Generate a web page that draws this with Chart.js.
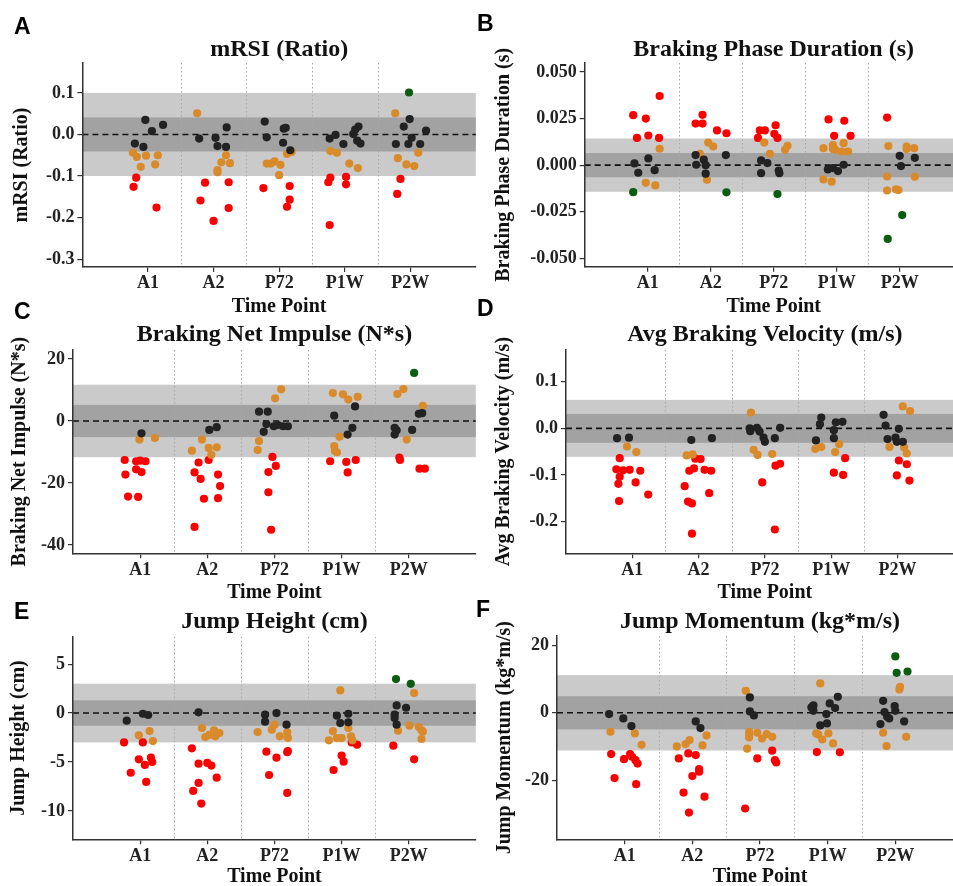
<!DOCTYPE html>
<html>
<head>
<meta charset="utf-8">
<script src="https://cdn.jsdelivr.net/npm/chart.js@4.4.1/dist/chart.umd.min.js"></script>
<style>
html, body { margin: 0; padding: 0; background: #fff; overflow: hidden; }
#wrap { position: relative; width: 953px; height: 886px; overflow: hidden; background: #fff; }
#wrap canvas { position: absolute; }
.letter { position: absolute; font: bold 23px "Liberation Sans", Arial, sans-serif; line-height: 23px; color: #000; z-index: 5; }
</style>
</head>
<body>
<div id="wrap"></div>
<script>
// categories on the x axis
const timePoints = ['A1', 'A2', 'P72', 'P1W', 'P2W'];

// points are [jittered time point index, value]
// mRSI (Ratio)
const mrsiBlack = [[0.80,-0.022],[0.96,0.035],[0.93,-0.030],[1.06,0.008],[1.23,0.023],[1.78,-0.010],[2.03,-0.008],[2.06,-0.028],[2.19,-0.030],[2.20,0.017],[2.78,0.031],[2.81,-0.007],[3.07,0.014],[3.10,0.016],[3.06,-0.020],[3.17,-0.038],[3.77,-0.010],[3.86,-0.001],[3.98,-0.023],[4.13,0.001],[4.16,0.012],[4.21,0.019],[4.19,-0.015],[4.24,-0.022],[4.99,0.037],[4.90,0.019],[5.24,0.009],[4.78,-0.023],[4.97,-0.023],[5.02,-0.008],[5.15,-0.023]];
const mrsiOrange = [[0.77,-0.044],[0.83,-0.054],[0.97,-0.051],[0.89,-0.078],[1.11,-0.072],[1.15,-0.050],[1.75,0.051],[2.19,-0.050],[2.12,-0.067],[2.25,-0.069],[2.06,-0.086],[2.06,-0.091],[2.81,-0.070],[2.87,-0.070],[2.93,-0.065],[3.02,-0.073],[3.00,-0.098],[3.12,-0.047],[3.19,-0.042],[3.78,-0.040],[3.88,-0.044],[4.07,-0.070],[4.20,-0.081],[4.77,0.051],[4.81,-0.057],[4.94,-0.072],[5.06,-0.076],[5.12,-0.044]];
const mrsiRed = [[0.82,-0.104],[0.78,-0.126],[1.13,-0.176],[1.87,-0.116],[2.23,-0.115],[1.80,-0.159],[2.23,-0.177],[2.00,-0.208],[2.76,-0.129],[3.16,-0.124],[3.16,-0.157],[3.12,-0.174],[3.78,-0.104],[3.75,-0.115],[4.02,-0.102],[4.02,-0.120],[3.77,-0.218],[4.85,-0.107],[4.80,-0.143]];
const mrsiGreen = [[4.98,0.101]];

// Braking Phase Duration (s)
const bpdBlack = [[0.79,0.0009],[0.85,-0.0041],[1.01,0.0036],[1.11,-0.0027],[1.76,0.0054],[2.24,0.0054],[1.89,0.0029],[1.77,0.0002],[1.92,0.0],[1.92,-0.0046],[2.80,0.0025],[2.90,0.0011],[2.80,-0.0043],[3.08,-0.0029],[3.09,-0.0043],[3.86,-0.0023],[3.94,-0.0016],[4.02,-0.0032],[4.11,0.0002],[5.00,0.0050],[5.02,-0.0005],[5.24,0.0039]];
const bpdOrange = [[1.19,0.0088],[0.97,-0.0095],[1.12,-0.0109],[1.96,0.0121],[2.04,0.0100],[1.83,0.0061],[1.94,-0.0079],[2.85,0.0121],[2.94,0.0061],[3.18,0.0082],[3.22,0.0104],[3.79,0.0091],[3.94,0.0107],[3.98,0.0082],[4.08,0.0073],[4.11,0.0118],[4.18,0.0073],[3.94,0.0086],[3.79,-0.0077],[3.92,-0.0089],[4.82,0.0102],[5.11,0.0100],[5.23,0.0091],[5.11,0.0086],[4.80,-0.0061],[5.24,-0.0063],[4.80,-0.0136],[4.94,-0.0130],[4.98,-0.0134]];
const bpdRed = [[0.77,0.0268],[0.97,0.0250],[1.19,0.0371],[0.83,0.0146],[1.01,0.0159],[1.18,0.0146],[1.76,0.0223],[1.87,0.0270],[1.87,0.0223],[2.10,0.0186],[2.25,0.0171],[2.78,0.0186],[2.86,0.0186],[3.03,0.0214],[3.01,0.0168],[2.75,0.0146],[3.06,0.0146],[3.87,0.0245],[4.12,0.0238],[3.96,0.0157],[4.22,0.0157],[4.80,0.0255]];
const bpdGreen = [[0.77,-0.0145],[2.25,-0.0146],[3.06,-0.0155],[5.04,-0.0268],[4.81,-0.0396]];

// Braking Net Impulse (N*s)
const bniBlack = [[1.02,-4.0],[2.03,-2.9],[2.14,-2.0],[2.77,3.0],[2.90,3.0],[2.88,-1.0],[2.84,-3.5],[2.99,-1.7],[3.05,-1.3],[3.13,-1.7],[3.20,-1.7],[4.20,4.7],[3.89,1.7],[4.16,-2.2],[4.09,-4.4],[5.15,2.3],[5.20,2.5],[4.79,-2.2],[4.82,-3.0],[4.79,-4.4],[5.05,-2.9]];
const bniOrange = [[0.99,-6.0],[1.22,-5.5],[1.77,-9.6],[1.92,-6.0],[2.02,-8.7],[2.14,-8.5],[2.06,-10.9],[3.10,10.2],[3.01,7.3],[2.77,-6.5],[2.75,-9.4],[3.87,9.0],[4.02,8.6],[4.10,6.9],[4.24,7.8],[3.97,-5.1],[3.89,-8.1],[3.90,-9.6],[3.93,-10.1],[4.83,8.7],[4.92,10.3],[5.21,4.9],[4.97,-6.0]];
const bniRed = [[0.77,-12.6],[0.94,-13.0],[1.00,-12.8],[1.08,-13.0],[0.94,-15.6],[1.02,-16.5],[0.78,-17.3],[0.82,-24.4],[0.97,-24.5],[1.87,-13.4],[2.02,-12.6],[1.81,-16.6],[1.90,-18.7],[2.16,-17.3],[2.19,-21.0],[1.95,-25.1],[2.16,-24.9],[1.81,-34.2],[2.97,-11.6],[3.02,-14.5],[2.91,-16.5],[2.91,-23.0],[2.95,-35.1],[3.83,-13.0],[4.07,-13.2],[4.21,-12.6],[4.09,-16.6],[4.86,-11.8],[4.87,-12.6],[5.16,-15.4],[5.24,-15.4]];
const bniGreen = [[5.08,15.5]];

// Avg Braking Velocity (m/s)
const abvBlack = [[0.77,-0.021],[0.95,-0.020],[1.89,-0.025],[2.20,-0.021],[2.77,0.000],[2.78,-0.006],[2.88,0.001],[2.92,-0.007],[2.98,-0.020],[3.00,-0.029],[3.15,-0.021],[3.23,0.001],[3.85,0.023],[3.83,0.009],[4.07,0.013],[4.17,0.014],[4.04,-0.004],[3.77,-0.026],[4.04,-0.021],[4.79,0.029],[4.82,0.006],[5.02,-0.001],[4.85,-0.023],[4.97,-0.020],[4.99,-0.029],[5.08,-0.029]];
const abvOrange = [[0.92,-0.039],[1.06,-0.051],[1.82,-0.058],[1.91,-0.056],[2.79,0.034],[2.83,-0.046],[2.89,-0.057],[3.11,-0.055],[3.76,-0.044],[3.85,-0.040],[4.12,-0.034],[4.06,-0.051],[5.08,0.047],[5.19,0.037],[4.88,-0.040],[5.10,-0.041],[5.14,-0.054]];
const abvRed = [[0.81,-0.064],[0.76,-0.088],[0.86,-0.090],[0.96,-0.089],[0.81,-0.104],[0.79,-0.119],[1.12,-0.091],[1.05,-0.116],[1.24,-0.142],[0.80,-0.156],[1.95,-0.065],[2.03,-0.066],[1.86,-0.091],[1.93,-0.086],[2.09,-0.089],[2.19,-0.091],[1.79,-0.124],[1.84,-0.157],[1.90,-0.161],[2.16,-0.139],[1.90,-0.226],[2.96,-0.116],[3.16,-0.080],[3.23,-0.076],[3.15,-0.217],[4.21,-0.064],[4.04,-0.095],[4.18,-0.100],[5.02,-0.069],[5.14,-0.077],[4.99,-0.101],[5.18,-0.112]];
const abvGreen = [];

// Jump Height (cm)
const jhBlack = [[0.80,-0.78],[1.04,-0.07],[1.12,-0.20],[1.87,0.07],[2.86,-0.17],[3.03,0.00],[2.86,-0.88],[3.18,-1.19],[3.93,-0.27],[4.10,-0.07],[3.98,-1.02],[4.10,-0.95],[4.82,0.78],[4.96,0.54],[4.79,-0.17],[4.79,-0.51],[4.82,-1.19]];
const jhOrange = [[0.98,-2.28],[1.14,-1.84],[1.19,-2.86],[1.92,-1.53],[1.97,-2.45],[2.03,-2.24],[2.10,-1.77],[2.12,-2.38],[2.18,-2.04],[2.75,-1.94],[2.96,-1.70],[3.00,-1.19],[3.08,-2.38],[3.19,-1.97],[3.20,-2.55],[3.98,2.31],[3.87,-1.84],[3.81,-2.79],[3.93,-2.55],[4.00,-2.55],[4.10,-1.53],[4.14,-2.38],[4.16,-2.79],[5.08,2.04],[4.84,-1.80],[5.01,-1.29],[5.15,-1.43],[5.19,-1.77],[5.21,-1.90],[5.19,-2.65]];
const jhRed = [[0.76,-3.00],[1.04,-3.00],[0.98,-4.73],[1.16,-4.56],[1.18,-5.00],[1.07,-5.30],[0.86,-6.10],[1.09,-7.04],[1.77,-3.60],[1.87,-5.17],[2.00,-5.10],[2.06,-5.37],[1.79,-7.96],[1.87,-7.14],[2.14,-6.60],[1.91,-9.25],[2.88,-3.95],[3.03,-4.56],[3.20,-3.88],[3.19,-4.00],[2.92,-6.33],[3.19,-8.16],[4.15,-3.00],[4.23,-3.23],[4.00,-4.35],[4.03,-4.97],[3.88,-5.82],[4.77,-3.33],[5.08,-4.73]];
const jhGreen = [[4.81,3.47],[5.03,2.99]];

// Jump Momentum (kg*m/s)
const jmBlack = [[0.77,-0.39],[0.98,-1.67],[1.10,-3.94],[2.05,-2.56],[2.12,-4.53],[2.85,4.53],[2.85,0.39],[2.91,-0.79],[4.15,4.73],[3.76,1.58],[3.79,2.17],[4.03,2.76],[4.11,1.38],[3.79,0.59],[3.98,-0.39],[3.99,-3.15],[3.89,-3.74],[4.82,3.55],[4.99,1.97],[4.84,0.20],[4.88,-1.18],[4.91,-1.67],[5.00,0.59],[4.78,-3.35],[5.13,-2.56]];
const jmOrange = [[0.79,-5.6],[1.15,-6.1],[1.25,-9.46],[1.77,-9.95],[1.90,-9.26],[1.96,-8.08],[2.15,-9.66],[2.21,-6.7],[2.79,6.5],[2.84,-5.6],[2.84,-6.8],[2.84,-7.3],[2.96,-5.9],[3.03,-7.6],[3.10,-6.3],[3.18,-7.1],[2.81,-10.6],[3.89,8.67],[3.83,-6.1],[3.86,-6.4],[4.01,-6.1],[3.92,-7.9],[4.08,-9.06],[5.07,7.68],[5.06,6.9],[4.82,-5.9],[5.16,-7.1],[4.87,-9.85]];
const jmRed = [[0.80,-12.2],[0.99,-13.7],[1.08,-12.2],[1.11,-13.0],[1.16,-14.0],[1.19,-15.0],[0.85,-19.3],[1.17,-21.1],[1.80,-13.5],[1.94,-12.0],[2.05,-12.5],[2.10,-16.65],[2.10,-17.4],[2.00,-18.7],[1.87,-23.6],[2.18,-24.8],[1.95,-29.5],[2.96,-13.5],[3.18,-11.2],[3.22,-14.0],[3.24,-14.7],[2.78,-28.3],[3.84,-11.6],[4.18,-11.7]];
const jmGreen = [[5.00,16.65],[5.02,11.8],[5.18,12.2]];

// y tick labels
const mrsiTicks = [0.1, 0, -0.1, -0.2, -0.3];
const bpdTicks = [0.05, 0.025, 0, -0.025, -0.05];
const bniTicks = [20, 0, -20, -40];
const abvTicks = [0.1, 0, -0.1, -0.2];
const jhTicks = [5, 0, -5, -10];
const jmTicks = [20, 0, -20];

// shaded bands: [inner half width, outer half width]
const mrsiBand = [0.041, 0.1];
const bpdBand = [0.0065, 0.0143];
const bniBand = [5.2, 11.7];
const abvBand = [0.031, 0.061];
const jhBand = [1.3, 3.0];
const jmBand = [4.9, 11.15];

const colors = { black: '#222222', orange: '#d98b2b', red: '#fb0000', green: '#0c5c12' };
const serif = '"Liberation Serif", "Times New Roman", serif';

// layout for each panel: canvas box [x, y, w, h], plot area [l, t, r, b]
const panels = [
  { letter: 'A', lpos: [14, 15], title: 'mRSI (Ratio)', ytitle: 'mRSI (Ratio)', groups: [mrsiBlack, mrsiOrange, mrsiRed, mrsiGreen],
    ticks: mrsiTicks, dec: 1, band: mrsiBand, range: [-0.319, 0.172],
    box: [0, 0, 480, 320], plot: [82.4, 63, 480, 267], titleCy: 50, yTitleCx: 21.7, xTitleCy: 306.7 },
  { letter: 'B', lpos: [477, 12], title: 'Braking Phase Duration (s)', ytitle: 'Braking Phase Duration (s)', groups: [bpdBlack, bpdOrange, bpdRed, bpdGreen],
    ticks: bpdTicks, dec: 3, band: bpdBand, range: [-0.0545, 0.0548],
    box: [480, 0, 490, 320], plot: [584.7, 63, 962.7, 266.7], titleCy: 49.3, yTitleCx: 504.3, xTitleCy: 306.7 },
  { letter: 'C', lpos: [14, 300], title: 'Braking Net Impulse (N*s)', ytitle: 'Braking Net Impulse (N*s)', groups: [bniBlack, bniOrange, bniRed, bniGreen],
    ticks: bniTicks, dec: 0, band: bniBand, range: [-42.7, 22.9],
    box: [0, 310, 480, 300], plot: [73, 350, 480, 553.3], titleCy: 335, yTitleCx: 20, xTitleCy: 593 },
  { letter: 'D', lpos: [477, 297], title: 'Avg Braking Velocity (m/s)', ytitle: 'Avg Braking Velocity (m/s)', groups: [abvBlack, abvOrange, abvRed, abvGreen],
    ticks: abvTicks, dec: 1, band: abvBand, range: [-0.268, 0.168],
    box: [480, 310, 490, 300], plot: [566, 350, 963.8, 553.3], titleCy: 335, yTitleCx: 504.3, xTitleCy: 593 },
  { letter: 'E', lpos: [14, 600], title: 'Jump Height (cm)', ytitle: 'Jump Height (cm)', groups: [jhBlack, jhOrange, jhRed, jhGreen],
    ticks: jhTicks, dec: 0, band: jhBand, range: [-12.9, 7.8],
    box: [0, 600, 480, 290], plot: [73, 636.7, 480, 839.3], titleCy: 621.7, yTitleCx: 19, xTitleCy: 876.7 },
  { letter: 'F', lpos: [476, 598], title: 'Jump Momentum (kg*m/s)', ytitle: 'Jump Momentum (kg*m/s)', groups: [jmBlack, jmOrange, jmRed, jmGreen],
    ticks: jmTicks, dec: 0, band: jmBand, range: [-37.4, 22.7],
    box: [480, 600, 490, 290], plot: [557, 636, 963, 839.3], titleCy: 621.7, yTitleCx: 505, xTitleCy: 876.7 }
];

// bands, separators and the dashed zero line, under the points
const refPlugin = {
  id: 'refBands',
  beforeDraw(chart, args, opts) {
    const { ctx, chartArea: a, scales: { x, y } } = chart;
    const [inner, outer] = opts.band;
    const w = a.right - a.left;
    ctx.save();
    ctx.beginPath();
    ctx.rect(a.left, a.top, w, a.bottom - a.top);
    ctx.clip();
    ctx.fillStyle = '#cacaca';
    ctx.fillRect(a.left, y.getPixelForValue(outer), w, y.getPixelForValue(-outer) - y.getPixelForValue(outer));
    ctx.fillStyle = '#a2a2a2';
    ctx.fillRect(a.left, y.getPixelForValue(inner), w, y.getPixelForValue(-inner) - y.getPixelForValue(inner));
    ctx.strokeStyle = '#a8a8a8';
    ctx.lineWidth = 1;
    ctx.setLineDash([1.5, 2.5]);
    for (let i = 1; i < timePoints.length; i++) {
      const px = Math.round(x.getPixelForValue(i + 0.5)) + 0.5;
      ctx.beginPath();
      ctx.moveTo(px, a.top);
      ctx.lineTo(px, a.bottom);
      ctx.stroke();
    }
    ctx.strokeStyle = '#111';
    ctx.lineWidth = 1.6;
    ctx.setLineDash([6, 4]);
    const py = y.getPixelForValue(0);
    ctx.beginPath();
    ctx.moveTo(a.left, py);
    ctx.lineTo(a.right, py);
    ctx.stroke();
    ctx.restore();
  }
};

const wrap = document.getElementById('wrap');

panels.forEach(p => {
  const [x0, y0, w, h] = p.box;
  const [pl, pt, pr, pb] = p.plot;
  const canvas = document.createElement('canvas');
  canvas.width = w;
  canvas.height = h;
  canvas.style.left = x0 + 'px';
  canvas.style.top = y0 + 'px';
  canvas.style.width = w + 'px';
  canvas.style.height = h + 'px';
  wrap.appendChild(canvas);

  const letter = document.createElement('div');
  letter.className = 'letter';
  letter.textContent = p.letter;
  letter.style.left = p.lpos[0] + 'px';
  letter.style.top = p.lpos[1] + 'px';
  wrap.appendChild(letter);

  const yW = pl - x0;
  const xH = y0 + h - pb;
  const tickFont = { family: serif, size: 18, weight: 'bold' };
  const axisTitleFont = { family: serif, size: 20, weight: 'bold', lineHeight: 1 };
  const gridOpts = { display: true, drawOnChartArea: false, drawTicks: true, tickLength: 5, color: '#333', lineWidth: 1.2 };
  const borderOpts = { display: true, color: '#333', width: 1.5 };
  const groupColors = [colors.black, colors.orange, colors.red, colors.green];

  new Chart(canvas, {
    type: 'scatter',
    data: {
      datasets: p.groups.map((g, i) => ({
        data: g.map(([x, y]) => ({ x, y })),
        backgroundColor: groupColors[i],
        borderWidth: 0,
        pointRadius: 4.1,
        pointHoverRadius: 4.1
      }))
    },
    options: {
      responsive: false,
      animation: false,
      devicePixelRatio: 1,
      events: [],
      layout: { padding: { top: p.titleCy - y0 - 12, right: x0 + w - pr, left: 0, bottom: 0 } },
      plugins: {
        legend: { display: false },
        tooltip: { enabled: false },
        title: {
          display: true,
          text: p.title,
          fullSize: false,
          color: '#111',
          font: { family: serif, size: 24, weight: 'bold', lineHeight: 1 },
          padding: { top: 0, bottom: Math.max(0, pt - p.titleCy - 12) }
        },
        refBands: { band: p.band }
      },
      scales: {
        x: {
          type: 'linear',
          min: 0,
          max: 6,
          afterBuildTicks: s => { s.ticks = timePoints.map((_, i) => ({ value: i + 1 })); },
          afterFit: s => { s.height = xH; },
          ticks: { callback: v => timePoints[v - 1], color: '#222', font: tickFont, padding: 1, maxRotation: 0, autoSkip: false },
          title: { display: true, text: 'Time Point', color: '#111', font: axisTitleFont, padding: { top: 0, bottom: y0 + h - p.xTitleCy - 10 } },
          grid: gridOpts,
          border: borderOpts
        },
        y: {
          min: p.range[0],
          max: p.range[1],
          afterBuildTicks: s => { s.ticks = p.ticks.map(v => ({ value: v })); },
          afterFit: s => { s.width = yW; },
          ticks: { callback: v => v.toFixed(p.dec), color: '#222', font: tickFont, padding: 3 },
          title: { display: true, text: p.ytitle, color: '#111', font: axisTitleFont, padding: { top: p.yTitleCx - x0 - 10, bottom: 0 } },
          grid: gridOpts,
          border: borderOpts
        }
      }
    },
    plugins: [refPlugin]
  });
});
</script>
</body>
</html>
